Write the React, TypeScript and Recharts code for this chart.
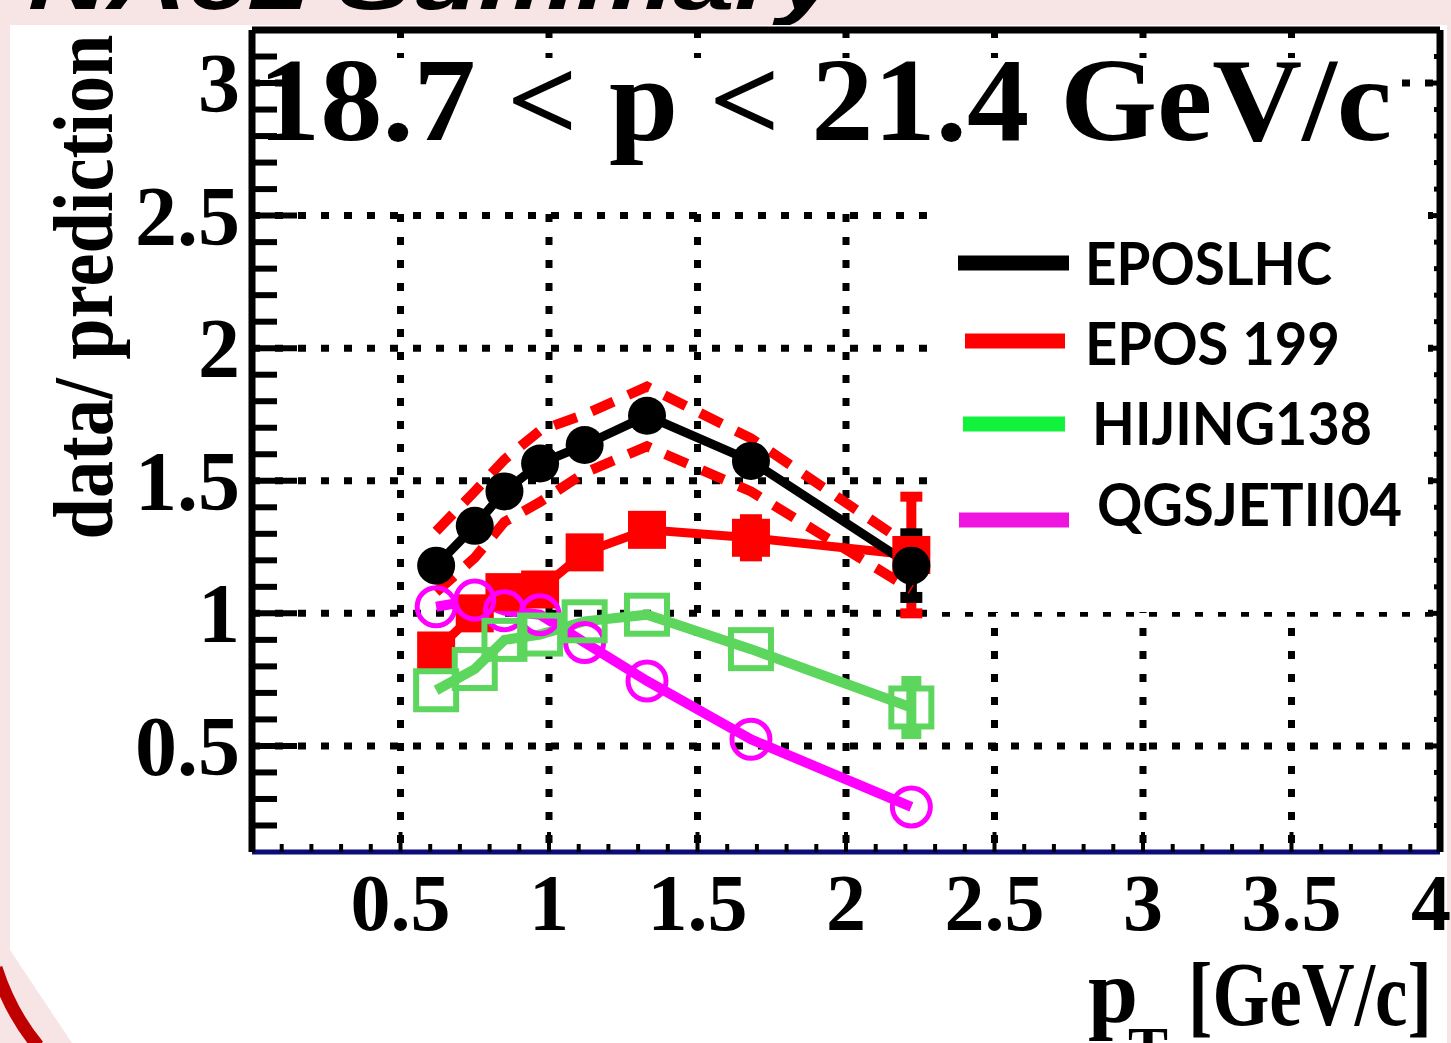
import React from 'react';
import {
    ComposedChart,
    Line,
    XAxis,
    YAxis,
    CartesianGrid,
    ReferenceLine,
    ErrorBar,
} from 'recharts';

// bin centres in pT [GeV/c]
const PT = [0.62, 0.75, 0.85, 0.97, 1.12, 1.33, 1.68, 2.22];

// data / prediction ratios
const EPOS_LHC = [1.18, 1.33, 1.46, 1.565, 1.635, 1.745, 1.575, 1.18];
const EPOS_LHC_ERR = [null, null, null, null, null, null, null, 0.12];
const EPOS_LHC_HI = [1.31, 1.46, 1.58, 1.69, 1.75, 1.855, 1.66, 1.25];
const EPOS_LHC_LO = [1.08, 1.21, 1.345, 1.42, 1.53, 1.63, 1.46, 1.09];
const EPOS_199 = [0.86, 1.0, 1.08, 1.09, 1.23, 1.315, 1.285, 1.22];
const EPOS_199_ERR = [null, null, null, null, null, 0.03, 0.07, 0.22];
const HIJING = [0.71, 0.79, 0.9, 0.92, 0.97, 0.995, 0.865, 0.645];
const HIJING_ERR = [null, null, null, null, null, null, null, 0.1];
const QGSJET = [1.025, 1.05, 1.01, 0.995, 0.89, 0.745, 0.525, 0.27];

const X_TICKS = Array.from({ length: 40 }, (_, i) => +((i + 1) * 0.1).toFixed(1));
const Y_TICKS = Array.from({ length: 30 }, (_, i) => +((i + 2) * 0.1).toFixed(1));
const X_GRID = [0.5, 1, 1.5, 2, 2.5, 3, 3.5];
const Y_GRID = [0.5, 1, 1.5, 2, 2.5, 3];

const LEGEND = [
    { name: 'EPOSLHC', color: '#000000', x1: 958, x2: 1069, y: 263, tx: 1085, ty: 285, tw: 247 },
    { name: 'EPOS 199', color: '#ff0000', x1: 965, x2: 1065, y: 341, tx: 1085, ty: 365, tw: 255 },
    { name: 'HIJING138', color: '#10f23c', x1: 963, x2: 1065, y: 424, tx: 1092, ty: 445, tw: 280 },
    { name: 'QGSJETII04', color: '#ee16de', x1: 959, x2: 1069, y: 520, tx: 1097, ty: 526, tw: 305 },
];

const SERIF = "'Liberation Serif', 'Times New Roman', serif";
const SANS = "Lato, 'Open Sans', sans-serif";

const data = PT.map((x, i) => ({
    x,
    eposLhc: EPOS_LHC[i],
    eposLhcErr: EPOS_LHC_ERR[i] ?? undefined,
    eposLhcHi: EPOS_LHC_HI[i],
    eposLhcLo: EPOS_LHC_LO[i],
    epos199: EPOS_199[i],
    epos199Err: EPOS_199_ERR[i] ?? undefined,
    hijing: HIJING[i],
    hijingErr: HIJING_ERR[i] ?? undefined,
    qgsjet: QGSJET[i],
}));

const isMajor = (v: number) => Math.abs(v * 2 - Math.round(v * 2)) < 1e-6;

const XTick = (props: any) => {
    const { x, y, payload } = props;
    const v = payload.value;
    const major = isMajor(v);
    const last = v >= 4;
    return (
        <g>
            <line x1={x} x2={x} y1={y} y2={y - (major ? 20 : 8)} stroke="#000" strokeWidth={4} />
            {major && (
                <text
                    x={last ? x + 11 : x}
                    y={y + 78}
                    textAnchor={last ? 'end' : 'middle'}
                    fontFamily={SERIF}
                    fontWeight="bold"
                    fontSize={80}
                    fill="#000"
                >
                    {String(v)}
                </text>
            )}
        </g>
    );
};

const YTick = (props: any) => {
    const { x, y, payload } = props;
    const v = payload.value;
    const major = isMajor(v);
    return (
        <g>
            <line x1={x} x2={x + (major ? 45 : 25)} y1={y} y2={y} stroke="#000" strokeWidth={6} />
            {major && (
                <text x={x - 12} y={y + 29} textAnchor="end" fontFamily={SERIF} fontWeight="bold" fontSize={84} fill="#000">
                    {String(v)}
                </text>
            )}
        </g>
    );
};

const RightTick = (props: any) => {
    const { x, y, payload } = props;
    const major = isMajor(payload.value);
    return <line x1={x} x2={x - (major ? 12 : 6)} y1={y} y2={y} stroke="#000" strokeWidth={5} />;
};

const blackDot = (p: any) => <circle key={`b${p.index}`} cx={p.cx} cy={p.cy} r={19} fill="#000" />;
const redDot = (p: any) => (
    <rect key={`r${p.index}`} x={p.cx - 19} y={p.cy - 19} width={38} height={38} fill="#ff0000" />
);
const greenDot = (p: any) => (
    <rect key={`g${p.index}`} x={p.cx - 20} y={p.cy - 19} width={40} height={38} fill="none" stroke="#5cd65c" strokeWidth={6} />
);
const magentaDot = (p: any) => (
    <circle key={`m${p.index}`} cx={p.cx} cy={p.cy} r={19} fill="none" stroke="#ff00ff" strokeWidth={5} />
);

export default function App() {
    return (
        <div style={{ position: 'absolute', left: 0, top: 0, width: 1451, height: 1043, background: '#f7e4e4', overflow: 'hidden' }}>
            {/* slide background */}
            <svg width={1451} height={1043} style={{ position: 'absolute', left: 0, top: 0 }}>
                <text x={28} y={9} fontFamily="'Liberation Sans', Arial, sans-serif" fontStyle="italic" fontWeight="bold" fontSize={80} textLength={810} lengthAdjust="spacingAndGlyphs" fill="#000">
                    NA61 Summary
                </text>
                <rect x={10} y={25} width={1437} height={1018} fill="#fff" />
                <polygon points="0,950 10,950 72,1043 0,1043" fill="#f7e4e4" />
                <path d="M -4 968 Q 10 1012 38 1046" fill="none" stroke="#c00000" strokeWidth={13} />
            </svg>

            <div style={{ position: 'absolute', left: 0, top: 0 }}>
                <ComposedChart width={1451} height={1043} data={data} margin={{ top: 30, right: 0, bottom: 0, left: 0 }}>
                    <CartesianGrid
                        horizontalValues={Y_GRID}
                        verticalValues={X_GRID}
                        stroke="#000"
                        strokeWidth={7}
                        strokeDasharray="8 15"
                        fill="none"
                    />
                    <XAxis
                        type="number"
                        dataKey="x"
                        domain={[0, 4]}
                        ticks={X_TICKS}
                        interval={0}
                        allowDataOverflow
                        height={191}
                        tickSize={0}
                        tickMargin={0}
                        tick={<XTick />}
                        axisLine={{ stroke: '#0b0b7a', strokeWidth: 5 }}
                    />
                    <YAxis
                        type="number"
                        domain={[0.1, 3.2]}
                        ticks={Y_TICKS}
                        interval={0}
                        allowDataOverflow
                        width={252}
                        tickSize={0}
                        tickMargin={0}
                        tick={<YTick />}
                        axisLine={{ stroke: '#000', strokeWidth: 7 }}
                    />
                    <YAxis
                        yAxisId="r"
                        orientation="right"
                        type="number"
                        domain={[0.1, 3.2]}
                        ticks={Y_TICKS}
                        interval={0}
                        allowDataOverflow
                        width={11}
                        tickSize={0}
                        tickMargin={0}
                        tick={<RightTick />}
                        axisLine={{ stroke: '#000', strokeWidth: 7 }}
                    />
                    <ReferenceLine y={3.2} stroke="#000" strokeWidth={7} />

                    <Line dataKey="epos199" stroke="#ff0000" strokeWidth={9} dot={redDot} isAnimationActive={false} legendType="none">
                        <ErrorBar dataKey="epos199Err" direction="y" width={11} stroke="#ff0000" strokeWidth={10} />
                    </Line>
                    <Line dataKey="eposLhc" stroke="#000" strokeWidth={9} dot={blackDot} isAnimationActive={false} legendType="none">
                        <ErrorBar dataKey="eposLhcErr" direction="y" width={11} stroke="#000" strokeWidth={11} />
                    </Line>
                    <Line dataKey="eposLhcHi" stroke="#ff0000" strokeWidth={10} strokeDasharray="24 16" dot={false} isAnimationActive={false} legendType="none" />
                    <Line dataKey="eposLhcLo" stroke="#ff0000" strokeWidth={10} strokeDasharray="24 16" dot={false} isAnimationActive={false} legendType="none" />
                    <Line dataKey="qgsjet" stroke="#ff00ff" strokeWidth={10} dot={magentaDot} isAnimationActive={false} legendType="none" />
                    <Line dataKey="hijing" stroke="#5cd65c" strokeWidth={10} dot={greenDot} isAnimationActive={false} legendType="none">
                        <ErrorBar dataKey="hijingErr" direction="y" width={10} stroke="#5cd65c" strokeWidth={10} />
                    </Line>
                </ComposedChart>
            </div>

            {/* title, legend and axis titles */}
            <svg width={1451} height={1043} style={{ position: 'absolute', left: 0, top: 0, pointerEvents: 'none' }}>
                <rect x={298} y={58} width={1094} height={150} fill="#fff" />
                <text x={258} y={140} fontFamily={SERIF} fontWeight="bold" fontSize={118} textLength={1134} lengthAdjust="spacingAndGlyphs" fill="#000">
                    {'18.7 < p < 21.4 GeV/c'}
                </text>

                <rect x={937} y={205} width={491} height={407} fill="#fff" />
                {LEGEND.map((l) => (
                    <g key={l.name}>
                        <line x1={l.x1} x2={l.x2} y1={l.y} y2={l.y} stroke={l.color} strokeWidth={15} />
                        <text x={l.tx} y={l.ty} fontFamily={SANS} fontWeight="bold" fontSize={60} textLength={l.tw} lengthAdjust="spacingAndGlyphs" fill="#000">
                            {l.name}
                        </text>
                    </g>
                ))}

                <text
                    transform="translate(112, 287) rotate(-90)"
                    textAnchor="middle"
                    fontFamily={SERIF}
                    fontWeight="bold"
                    fontSize={84}
                    textLength={505}
                    lengthAdjust="spacingAndGlyphs"
                    fill="#000"
                >
                    data/ prediction
                </text>

                <text x={1088} y={1022} fontFamily={SERIF} fontWeight="bold" fontSize={90} fill="#000">p</text>
                <text x={1128} y={1068} fontFamily={SERIF} fontWeight="bold" fontSize={60} fill="#000">T</text>
                <text x={1188} y={1025} fontFamily={SERIF} fontWeight="bold" fontSize={90} textLength={244} lengthAdjust="spacingAndGlyphs" fill="#000">
                    [GeV/c]
                </text>
            </svg>
        </div>
    );
}
